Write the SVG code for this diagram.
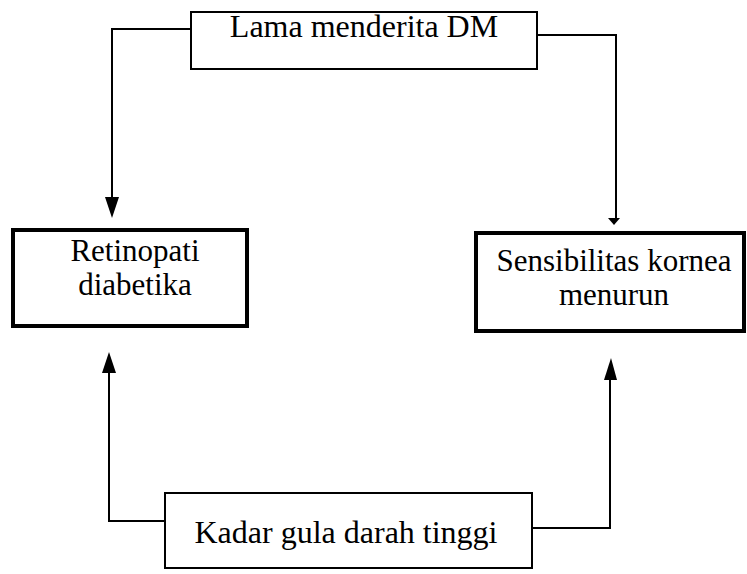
<svg xmlns="http://www.w3.org/2000/svg" width="747" height="574" viewBox="0 0 747 574">
<style>
.box{fill:#fff;stroke:#000}
.thin{stroke-width:2}
.thick{stroke-width:4}
.lbl{font-family:"Liberation Serif","Times New Roman",serif;font-size:32px;fill:#000;text-anchor:middle}
.sm{font-size:31px}
.con{fill:none;stroke:#000;stroke-width:2}
.head{fill:#000;stroke:none}
</style>
<rect width="747" height="574" fill="#fff"/>
<g id="connectors">
<path class="con" d="M191,29 H112 V200"/>
<polygon class="head" points="105,197 119,197 112,218"/>
<path class="con" d="M537,35 H616 V219"/>
<polygon class="head" points="608,218 620,218 614,225"/>
<path class="con" d="M165,521 H109 V370"/>
<polygon class="head" points="102,373 116,373 109,352"/>
<path class="con" d="M532,528 H610 V376"/>
<polygon class="head" points="604,380 617,380 611,358"/>
</g>
<g id="node-lama">
<rect class="box thin" x="191" y="12" width="346" height="57"/>
<text class="lbl" x="364" y="37">Lama menderita DM</text>
</g>
<g id="node-retinopati">
<rect class="box thick" x="13" y="230" width="234" height="96"/>
<text class="lbl sm" x="135" y="261">Retinopati</text>
<text class="lbl sm" x="135" y="295">diabetika</text>
</g>
<g id="node-sensibilitas">
<rect class="box thick" x="476" y="233" width="268" height="98"/>
<text class="lbl sm" x="614" y="271">Sensibilitas kornea</text>
<text class="lbl sm" x="614" y="305">menurun</text>
</g>
<g id="node-kadar">
<rect class="box thin" x="165" y="493" width="367" height="75"/>
<text class="lbl" x="346" y="543">Kadar gula darah tinggi</text>
</g>
</svg>
